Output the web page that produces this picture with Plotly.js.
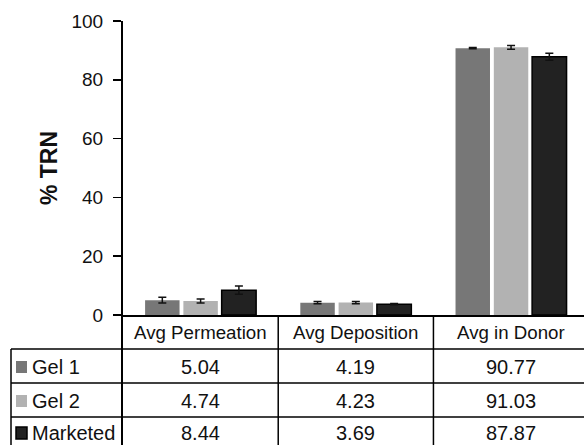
<!DOCTYPE html>
<html>
<head>
<meta charset="utf-8">
<script src="https://cdn.plot.ly/plotly-3.0.1.min.js"></script>
<style>html,body{margin:0;padding:0;background:#fff;}#chart{width:584px;height:445px;}</style>
</head>
<body>
<div id="chart"></div>
<script>
// ---- data ----
const categories = ['Avg Permeation', 'Avg Deposition', 'Avg in Donor'];
const seriesNames = ['Gel 1', 'Gel 2', 'Marketed'];
const gel1 = [5.04, 4.19, 90.77];
const gel2 = [4.74, 4.23, 91.03];
const marketed = [8.44, 3.69, 87.87];
const gel1Err = [1.0, 0.4, 0.2];
const gel2Err = [0.7, 0.4, 0.6];
const marketedErr = [1.4, 0.2, 1.2];
const yTicks = [0, 20, 40, 60, 80, 100];
const yTitle = '% TRN';

// ---- styles ----
const colors = ['#777777', '#b2b2b2', '#222222'];
const W = 584, H = 445;
const M = {l: 123, r: 0, t: 21, b: 130};
const plotW = W - M.l - M.r, plotH = H - M.t - M.b;
const FONT = 'Liberation Sans, Arial, sans-serif';
const px2x = p => (p - M.l) / plotW;
const px2y = p => (H - M.b - p) / plotH;

const series = [gel1, gel2, marketed];
const errs = [gel1Err, gel2Err, marketedErr];

const traces = series.map((vals, i) => ({
  type: 'bar',
  name: seriesNames[i],
  x: categories,
  y: vals,
  marker: {color: colors[i], line: {color: i === 2 ? '#000' : 'rgba(0,0,0,0)', width: i === 2 ? 1.5 : 0}},
  error_y: {type: 'data', array: errs[i], visible: true, color: '#111', thickness: 1.5, width: 4},
  showlegend: false,
  hoverinfo: 'none'
}));

// table geometry (pixel rows)
const rowLines = [349, 383, 417, 451];
const rowMids = [367, 401, 433];
const headerMid = 332;
const legendLeft = 11;

const shapes = [];
const lineStyle = {color: '#000', width: 1.5};
// horizontal lines
rowLines.forEach(py => shapes.push({type: 'line', xref: 'paper', yref: 'paper',
  x0: px2x(legendLeft), x1: 1.02, y0: px2y(py), y1: px2y(py), line: lineStyle}));
// vertical lines between categories
[0.5, 1.5].forEach(b => shapes.push({type: 'line', xref: 'x', yref: 'paper',
  x0: b, x1: b, y0: 0, y1: px2y(rowLines[3]), line: lineStyle}));
// left of table (continuation of y axis) and legend column border
shapes.push({type: 'line', xref: 'paper', yref: 'paper', x0: px2x(122), x1: px2x(122),
  y0: 0, y1: px2y(rowLines[3]), line: {color: '#000', width: 2}});
shapes.push({type: 'line', xref: 'paper', yref: 'paper', x0: px2x(legendLeft), x1: px2x(legendLeft),
  y0: px2y(rowLines[0]), y1: px2y(rowLines[3]), line: lineStyle});

const annotations = [];
categories.forEach((c, i) => annotations.push({xref: 'x', yref: 'paper', x: i, y: px2y(headerMid),
  text: c, showarrow: false, xanchor: 'center', yanchor: 'middle', font: {family: FONT, size: 18.7, color: '#111'}}));

series.forEach((vals, r) => {
  const mid = rowMids[r];
  vals.forEach((v, i) => annotations.push({xref: 'x', yref: 'paper', x: i, y: px2y(mid),
    text: v.toFixed(2), showarrow: false, xanchor: 'center', yanchor: 'middle',
    font: {family: FONT, size: 20, color: '#111'}}));
  // legend key
  shapes.push({type: 'rect', xref: 'paper', yref: 'paper', x0: px2x(16), x1: px2x(27),
    y0: px2y(mid - 6), y1: px2y(mid + 6), fillcolor: colors[r],
    line: {color: r === 2 ? '#000' : colors[r], width: r === 2 ? 1.5 : 0}});
  annotations.push({xref: 'paper', yref: 'paper', x: px2x(30), y: px2y(mid),
    text: seriesNames[r], showarrow: false, xanchor: 'left', yanchor: 'middle',
    font: {family: FONT, size: 20, color: '#111'}});
});

const layout = {
  width: W, height: H,
  margin: M,
  paper_bgcolor: '#fff', plot_bgcolor: '#fff',
  barmode: 'group', bargap: 0.26, bargroupgap: 0.1,
  showlegend: false,
  font: {family: FONT, color: '#111'},
  xaxis: {type: 'category', range: [-0.5, 2.47], showticklabels: false, ticks: '',
    showline: true, linecolor: '#000', linewidth: 2, showgrid: false, zeroline: false, fixedrange: true},
  yaxis: {range: [0, 100], tickvals: yTicks, ticks: 'outside', ticklen: 8, tickwidth: 1.5, tickcolor: '#000',
    showline: true, linecolor: '#000', linewidth: 2, showgrid: false, zeroline: false,
    tickfont: {family: FONT, size: 19, color: '#111'}, ticklabelstandoff: 6,
    title: {text: '<b>' + yTitle + '</b>', font: {family: FONT, size: 23, color: '#111'}, standoff: 7},
    fixedrange: true},
  shapes: shapes,
  annotations: annotations
};

Plotly.newPlot('chart', traces, layout, {displayModeBar: false, staticPlot: true});
</script>
</body>
</html>
